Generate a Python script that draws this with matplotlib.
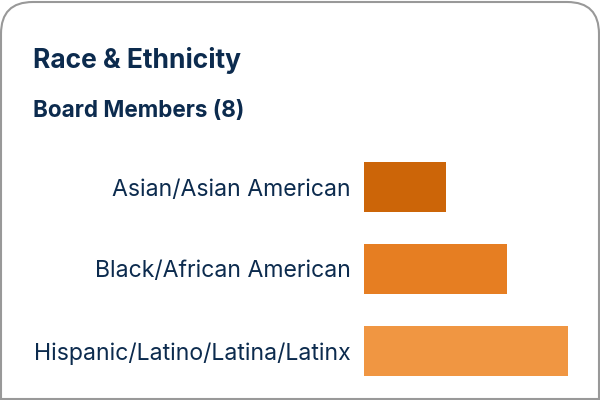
import matplotlib
matplotlib.use("Agg")
import matplotlib.pyplot as plt
from matplotlib.patches import FancyBboxPatch
from matplotlib.lines import Line2D
import numpy as np

plt.rcParams['font.family'] = ['Inter', 'DejaVu Sans']

title = "Race & Ethnicity"
subtitle = "Board Members (8)"
categories = ["Asian/Asian American", "Black/African American",
              "Hispanic/Latino/Latina/Latinx"]
counts = [1, 2, 3]
colors = ["#cc6508", "#e67e22", "#f09642"]

navy = "#0c2b4e"
W, H = 600, 400
min_bar = 0.344  # bars get a small minimum length

fig = plt.figure(figsize=(6, 4), dpi=100)

# card border: rounded top, clipped at the bottom
card = FancyBboxPatch((1 / W, -60 / H), 598 / W, (398 + 60) / H,
                      boxstyle="round,pad=0,rounding_size=0.053",
                      transform=fig.transFigure, fill=False,
                      edgecolor="#999999", linewidth=1.5,
                      mutation_aspect=W / H)
fig.patches.append(card)
fig.lines.append(Line2D([0, 1], [1 / H, 1 / H], transform=fig.transFigure,
                        color="#999999", linewidth=1.5))

fig.text(33 / W, 1 - 67.5 / H, title, fontsize=19, fontweight="bold",
         color=navy, va="baseline")
fig.text(33 / W, 1 - 116.5 / H, subtitle, fontsize=16.2, fontweight="bold",
         color=navy, va="baseline")

ax = fig.add_axes([364 / W, 8 / H, 204 / W, 246 / H])
y = np.arange(len(categories))
ax.barh(y, np.array(counts) + min_bar, left=-min_bar, height=0.61,
        color=colors)
ax.set_xlim(-min_bar, max(counts))
ax.set_ylim(len(categories) - 0.5, -0.5)
ax.set_yticks(y)
ax.set_yticklabels(categories, fontsize=16.6, color=navy)
ax.tick_params(axis="y", length=0, pad=9.5)
ax.set_xticks([])
for s in ax.spines.values():
    s.set_visible(False)
ax.patch.set_alpha(0)

fig.savefig("out.png", dpi=100)
